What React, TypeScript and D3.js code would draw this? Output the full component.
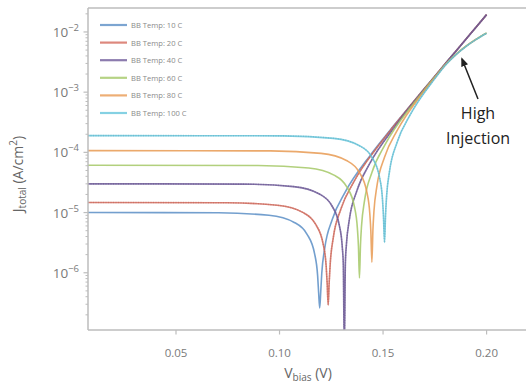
import React from "react";
import * as d3 from "d3";

// Bias voltage (V) vs |J_total| (A/cm²) for each blackbody temperature
const bbTemps = ["10", "20", "40", "60", "80", "100"];
const seriesColors = ["#5b8ec6", "#d46a5c", "#6f5a9a", "#a4c866", "#e89a52", "#66c6dc"];
// series drawn with a fine dotted sampling texture on top of the line
const texturedSeries = [false, true, true, false, false, true];

const curve10: [number, number][] = [
  [0.0075, 1.0e-5], [0.0704, 0.99e-5], [0.0949, 0.9e-5], [0.1071, 6.85e-6], [0.1133, 4.36e-6],
  [0.11695, 2.06e-6], [0.1184, 8.96e-7], [0.1189, 4.6e-7], [0.1194, 2.6e-7], [0.1199, 4.8e-7],
  [0.1204, 9.8e-7], [0.12185, 2.59e-6], [0.1255, 7.74e-6], [0.1317, 2.18e-5], [0.1439, 9.0e-5],
  [0.15, 1.67e-4], [0.155, 2.73e-4], [0.16, 4.43e-4], [0.165, 7.15e-4], [0.17, 1.15e-3],
  [0.175, 1.84e-3], [0.18, 2.96e-3], [0.185, 4.73e-3], [0.19, 7.58e-3], [0.195, 1.21e-2], [0.2, 1.94e-2],
];
const curve20: [number, number][] = [
  [0.0075, 1.47e-5], [0.0745, 1.455e-5], [0.099, 1.32e-5], [0.1112, 1.007e-5], [0.1174, 6.41e-6],
  [0.12105, 3.03e-6], [0.1225, 1.32e-6], [0.123, 6.8e-7], [0.1235, 2.9e-7], [0.124, 7.1e-7],
  [0.1245, 1.44e-6], [0.12595, 3.81e-6], [0.1296, 1.138e-5], [0.1358, 3.2e-5], [0.148, 1.32e-4],
  [0.155, 2.68e-4], [0.16, 4.38e-4], [0.165, 7.1e-4], [0.17, 1.145e-3], [0.175, 1.835e-3],
  [0.18, 2.955e-3], [0.185, 4.725e-3], [0.19, 7.575e-3], [0.195, 1.21e-2], [0.2, 1.94e-2],
];
const curve40: [number, number][] = [
  [0.0075, 3.0e-5], [0.0823, 2.97e-5], [0.1068, 2.7e-5], [0.119, 2.055e-5], [0.1252, 1.31e-5],
  [0.12885, 6.18e-6], [0.1303, 2.69e-6], [0.1308, 1.38e-6], [0.1313, 5e-8], [0.1318, 1.44e-6],
  [0.1323, 2.94e-6], [0.13375, 7.77e-6], [0.1374, 2.32e-5], [0.1436, 6.54e-5], [0.1558, 2.7e-4],
  [0.16, 4.23e-4], [0.165, 6.95e-4], [0.17, 1.13e-3], [0.175, 1.82e-3], [0.18, 2.94e-3],
  [0.185, 4.71e-3], [0.19, 7.56e-3], [0.195, 1.207e-2], [0.2, 1.937e-2],
];
const curve60: [number, number][] = [
  [0.0075, 6.1e-5], [0.0896, 6.04e-5], [0.1141, 5.49e-5], [0.1263, 4.18e-5], [0.1325, 2.66e-5],
  [0.13615, 1.26e-5], [0.1376, 5.47e-6], [0.1381, 2.81e-6], [0.1386, 8.2e-7], [0.1391, 2.93e-6],
  [0.1396, 5.98e-6], [0.14105, 1.58e-5], [0.1447, 4.72e-5], [0.1509, 1.33e-4], [0.1631, 5.49e-4],
  [0.165, 6.64e-4], [0.17, 1.1e-3], [0.175, 1.78e-3], [0.18, 2.85e-3], [0.185, 4.2e-3],
  [0.19, 5.8e-3], [0.195, 7.6e-3], [0.2, 9.6e-3],
];
const curve80: [number, number][] = [
  [0.0075, 1.07e-4], [0.0956, 1.059e-4], [0.1201, 9.63e-5], [0.1323, 7.33e-5], [0.1385, 4.67e-5],
  [0.14215, 2.2e-5], [0.1436, 9.6e-6], [0.1441, 4.92e-6], [0.1446, 1.5e-6], [0.1451, 5.14e-6],
  [0.1456, 1.05e-5], [0.14705, 2.77e-5], [0.1507, 8.28e-5], [0.1569, 2.33e-4], [0.1691, 9.63e-4],
  [0.175, 1.74e-3], [0.18, 2.82e-3], [0.185, 4.17e-3], [0.19, 5.77e-3], [0.195, 7.57e-3], [0.2, 9.57e-3],
];
const curve100: [number, number][] = [
  [0.0075, 1.9e-4], [0.1017, 1.88e-4], [0.1262, 1.71e-4], [0.1384, 1.3e-4], [0.1446, 8.3e-5],
  [0.14825, 3.91e-5], [0.1497, 1.7e-5], [0.1502, 8.7e-6], [0.1507, 3.2e-6], [0.1512, 9.1e-6],
  [0.1517, 1.86e-5], [0.15315, 4.92e-5], [0.1568, 1.47e-4], [0.163, 4.14e-4], [0.1752, 1.71e-3],
  [0.18, 2.78e-3], [0.185, 4.13e-3], [0.19, 5.73e-3], [0.195, 7.53e-3], [0.2, 9.53e-3],
];
const curves = [curve10, curve20, curve40, curve60, curve80, curve100];

const xTicks = [0.05, 0.1, 0.15, 0.2];
const xTickLabels = ["0.05", "0.10", "0.15", "0.20"];
const yExponents = [-2, -3, -4, -5, -6];

const W = 526;
const H = 383;
const M = { left: 88, top: 8, right: 528, bottom: 330 };

const font = "'Open Sans', 'Noto Sans', sans-serif";

export default function App() {
  const x = d3.scaleLinear().domain([0.0075, 0.22]).range([M.left, M.right]);
  const y = d3.scaleLog().domain([1.12e-7, 2.5e-2]).range([M.bottom, M.top]);

  const line = d3
    .line<[number, number]>()
    .x((d) => x(d[0]))
    .y((d) => y(d[1]))
    .curve(d3.curveMonotoneX);

  // minor ticks on the log axis
  const minor: number[] = [];
  for (let e = -7; e <= -2; e++) {
    for (let k = 2; k <= 9; k++) {
      const v = k * Math.pow(10, e);
      if (v >= y.domain()[0] && v <= y.domain()[1]) minor.push(v);
    }
  }

  const axisColor = "#bdbdbd";
  const labelColor = "#7a7a7a";

  return (
    <svg
      width={W}
      height={H}
      style={{ position: "absolute", left: 0, top: 0, background: "#fff" }}
      fontFamily={font}
    >
      <defs>
        <clipPath id="plot-clip">
          <rect x={M.left} y={M.top} width={M.right - M.left} height={M.bottom - M.top} />
        </clipPath>
        <marker id="arrow-head" viewBox="0 0 10 10" refX="8" refY="5" markerWidth="6" markerHeight="6" orient="auto">
          <path d="M0,1 L10,5 L0,9 z" fill="#222" />
        </marker>
      </defs>

      {/* curves */}
      <g clipPath="url(#plot-clip)">
        {curves.map((c, i) => (
          <g key={bbTemps[i]}>
            <path d={line(c) || ""} fill="none" stroke={seriesColors[i]} strokeWidth={1.6} strokeOpacity={0.85} />
            {texturedSeries[i] && (
              <path
                d={line(c) || ""}
                fill="none"
                stroke={d3.color(seriesColors[i])!.darker(0.6).formatHex()}
                strokeWidth={1.6}
                strokeOpacity={0.35}
                strokeDasharray="1 1.5"
              />
            )}
          </g>
        ))}
      </g>

      {/* spines */}
      <line x1={M.left} x2={M.right} y1={M.top} y2={M.top} stroke={axisColor} strokeWidth={1.5} />
      <line x1={M.left} x2={M.left} y1={M.top} y2={M.bottom} stroke={axisColor} strokeWidth={1.5} />
      <line x1={M.left} x2={M.right} y1={M.bottom} y2={M.bottom} stroke={axisColor} strokeWidth={1.5} />

      {/* y axis ticks */}
      {minor.map((v) => (
        <line key={"m" + v} x1={M.left - 2.5} x2={M.left} y1={y(v)} y2={y(v)} stroke={axisColor} strokeWidth={1} />
      ))}
      {yExponents.map((e) => (
        <g key={"y" + e}>
          <line x1={M.left - 4.5} x2={M.left} y1={y(Math.pow(10, e))} y2={y(Math.pow(10, e))} stroke={axisColor} strokeWidth={1.2} />
          <text x={M.left - 9} y={y(Math.pow(10, e)) + 5} textAnchor="end" fontSize={13.5} fill={labelColor}>
            <tspan>10</tspan>
            <tspan fontSize={9.5} dy={-6}>{"\u2212" + Math.abs(e)}</tspan>
          </text>
        </g>
      ))}

      {/* x axis ticks */}
      {xTicks.map((t, i) => (
        <g key={"x" + t}>
          <line x1={x(t)} x2={x(t)} y1={M.bottom} y2={M.bottom + 4.5} stroke={axisColor} strokeWidth={1.2} />
          <text x={x(t)} y={M.bottom + 27} textAnchor="middle" fontSize={11.5} fill={labelColor}>
            {xTickLabels[i]}
          </text>
        </g>
      ))}

      {/* axis labels */}
      <text x={(M.left + M.right) / 2} y={378} textAnchor="middle" fontSize={14} fill="#666">
        <tspan>V</tspan>
        <tspan fontSize={10} dy={3}>bias</tspan>
        <tspan dy={-3}> (V)</tspan>
      </text>
      <text
        transform={`translate(23, ${(M.top + M.bottom) / 2 + 5}) rotate(-90)`}
        textAnchor="middle"
        fontSize={14}
        fill="#666"
      >
        <tspan>J</tspan>
        <tspan fontSize={10} dy={3}>total</tspan>
        <tspan dy={-3}> (A/cm</tspan>
        <tspan fontSize={10} dy={-6}>2</tspan>
        <tspan dy={6}>)</tspan>
      </text>

      {/* legend */}
      {bbTemps.map((t, i) => (
        <g key={"lg" + t} transform={`translate(100, ${25 + i * 17.6})`}>
          <line x1={0} x2={27} y1={0} y2={0} stroke={seriesColors[i]} strokeWidth={2.2} strokeOpacity={0.8} />
          <text x={31} y={3} fontSize={7.6} fill="#8a8a8a">
            {`BB Temp: ${t} C`}
          </text>
        </g>
      ))}

      {/* annotation */}
      <line x1={478} y1={99} x2={462} y2={59} stroke="#222" strokeWidth={1.5} markerEnd="url(#arrow-head)" />
      <text x={478} y={119} textAnchor="middle" fontSize={16} fill="#222">
        High
      </text>
      <text x={478} y={144} textAnchor="middle" fontSize={16} fill="#222">
        Injection
      </text>
    </svg>
  );
}
